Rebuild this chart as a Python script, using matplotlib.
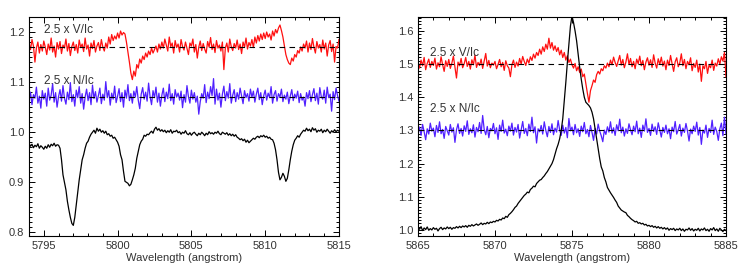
import matplotlib
matplotlib.use("Agg")
import matplotlib.pyplot as plt
from matplotlib.ticker import MultipleLocator, FormatStrFormatter
import numpy as np

plt.rcParams['font.family'] = ['Liberation Sans', 'DejaVu Sans']

# ---- left panel: 5794 - 5815 A, sampled every 0.1 A ----
wl_left = np.linspace(5794.0, 5815.0, 211)

int_left = [
    0.978, 0.972, 0.976, 0.969, 0.974, 0.971, 0.977, 0.968, 0.973, 0.970,
    0.966, 0.972, 0.968, 0.975, 0.970, 0.976, 0.973, 0.978, 0.972, 0.975,
    0.974, 0.968, 0.945, 0.915, 0.900, 0.885, 0.862, 0.845, 0.830, 0.818,
    0.814, 0.830, 0.855, 0.880, 0.905, 0.925, 0.945, 0.955, 0.968, 0.978,
    0.982, 0.990, 0.996, 1.000, 1.004, 0.998, 1.008, 1.002, 1.006, 1.000,
    1.003, 0.998, 1.002, 0.995, 0.997, 0.992, 0.994, 0.988, 0.990, 0.985,
    0.980, 0.972, 0.955, 0.945, 0.922, 0.902, 0.900, 0.898, 0.893, 0.896,
    0.905, 0.915, 0.928, 0.948, 0.962, 0.975, 0.982, 0.986, 0.994, 0.992,
    0.996, 0.995, 0.999, 1.002, 0.998, 1.006, 1.010, 1.004, 1.007, 1.002,
    1.005, 1.001, 1.004, 0.999, 1.003, 1.000, 1.005, 0.998, 1.002, 1.001,
    1.004, 0.999, 1.001, 0.996, 1.000, 0.998, 1.003, 0.997, 0.995, 0.999,
    0.994, 0.998, 1.000, 0.996, 0.993, 0.998, 0.995, 1.000, 0.997, 0.993,
    0.998, 0.995, 1.001, 0.997, 0.999, 0.996, 1.000, 0.998, 1.002, 0.997,
    0.995, 1.000, 0.998, 0.996, 0.999, 0.994, 0.997, 0.993, 0.996, 0.992,
    0.995, 0.990, 0.988, 0.985, 0.987, 0.983, 0.986, 0.980, 0.984, 0.979,
    0.982, 0.985, 0.988, 0.986, 0.990, 0.992, 0.989, 0.993, 0.991, 0.994,
    0.990, 0.992, 0.988, 0.990, 0.986, 0.985, 0.978, 0.965, 0.945, 0.920,
    0.905, 0.910, 0.918, 0.912, 0.902, 0.908, 0.925, 0.945, 0.962, 0.975,
    0.984, 0.988, 0.993, 0.990, 0.996, 1.000, 1.004, 1.002, 1.008, 1.003,
    1.006, 1.001, 1.009, 1.004, 1.007, 1.000, 1.004, 1.002, 1.006, 0.999,
    1.004, 1.001, 1.006, 1.002, 0.998, 1.003, 1.000, 1.005, 1.001, 1.004,
    1.002]

v_left = [
    1.178, 1.165, 1.185, 1.172, 1.140, 1.168, 1.180, 1.158, 1.175, 1.162,
    1.182, 1.170, 1.155, 1.176, 1.164, 1.188, 1.160, 1.172, 1.150, 1.179,
    1.166, 1.181, 1.157, 1.174, 1.168, 1.186, 1.162, 1.177, 1.153, 1.171,
    1.180, 1.163, 1.175, 1.158, 1.184, 1.169, 1.176, 1.161, 1.188, 1.166,
    1.174, 1.152, 1.178, 1.167, 1.183, 1.160, 1.172, 1.179, 1.163, 1.185,
    1.170, 1.162, 1.178, 1.168, 1.190, 1.176, 1.195, 1.183, 1.192, 1.186,
    1.198, 1.188, 1.202, 1.194, 1.199, 1.196, 1.180, 1.160, 1.140, 1.118,
    1.105, 1.122, 1.112, 1.135, 1.128, 1.146, 1.138, 1.152, 1.145, 1.158,
    1.150, 1.162, 1.155, 1.168, 1.158, 1.165, 1.172, 1.160, 1.176, 1.166,
    1.180, 1.168, 1.186, 1.174, 1.162, 1.190, 1.171, 1.178, 1.158, 1.183,
    1.169, 1.176, 1.160, 1.185, 1.171, 1.164, 1.180, 1.167, 1.155, 1.178,
    1.172, 1.186, 1.160, 1.175, 1.148, 1.170, 1.182, 1.163, 1.177, 1.166,
    1.158, 1.181, 1.170, 1.189, 1.165, 1.176, 1.159, 1.183, 1.168, 1.174,
    1.162, 1.180, 1.125, 1.168, 1.178, 1.160, 1.186, 1.171, 1.163, 1.177,
    1.168, 1.184, 1.165, 1.176, 1.157, 1.180, 1.170, 1.188, 1.166, 1.179,
    1.172, 1.185, 1.169, 1.190, 1.178, 1.193, 1.182, 1.196, 1.185, 1.198,
    1.187, 1.200, 1.190, 1.196, 1.184, 1.202, 1.192, 1.205, 1.198, 1.208,
    1.214, 1.203, 1.190, 1.172, 1.155, 1.145, 1.138, 1.135, 1.148, 1.142,
    1.155, 1.150, 1.163, 1.158, 1.170, 1.162, 1.176, 1.168, 1.182, 1.160,
    1.178, 1.165, 1.187, 1.170, 1.158, 1.181, 1.168, 1.175, 1.160, 1.184,
    1.166, 1.178, 1.152, 1.174, 1.183, 1.161, 1.176, 1.140, 1.171, 1.168,
    1.185]

n_left = [
    1.062, 1.080, 1.055, 1.075, 1.068, 1.090, 1.058, 1.072, 1.048, 1.083,
    1.066, 1.078, 1.052, 1.088, 1.064, 1.074, 1.097, 1.060, 1.079, 1.050,
    1.071, 1.085, 1.062, 1.093, 1.068, 1.056, 1.080, 1.065, 1.099, 1.061,
    1.075, 1.052, 1.084, 1.069, 1.091, 1.058, 1.077, 1.046, 1.070, 1.086,
    1.063, 1.079, 1.055, 1.094, 1.067, 1.081, 1.060, 1.073, 1.088, 1.057,
    1.076, 1.064, 1.101, 1.069, 1.083, 1.054, 1.078, 1.066, 1.092, 1.059,
    1.072, 1.087, 1.061, 1.079, 1.050, 1.084, 1.068, 1.095, 1.063, 1.077,
    1.058, 1.082, 1.070, 1.091, 1.064, 1.047, 1.076, 1.089, 1.066, 1.080,
    1.062, 1.098, 1.071, 1.055, 1.083, 1.069, 1.090, 1.060, 1.078, 1.052,
    1.074, 1.088, 1.061, 1.080, 1.067, 1.096, 1.063, 1.077, 1.056, 1.085,
    1.070, 1.078, 1.064, 1.082, 1.049, 1.075, 1.060, 1.093, 1.071, 1.058,
    1.084, 1.066, 1.079, 1.060, 1.072, 1.036, 1.061, 1.077, 1.068, 1.095,
    1.059, 1.080, 1.067, 1.091, 1.073, 1.107, 1.056, 1.086, 1.064, 1.078,
    1.050, 1.076, 1.092, 1.063, 1.081, 1.068, 1.097, 1.058, 1.074, 1.085,
    1.061, 1.079, 1.066, 1.088, 1.072, 1.057, 1.083, 1.069, 1.077, 1.062,
    1.086, 1.070, 1.082, 1.060, 1.076, 1.088, 1.065, 1.079, 1.055, 1.073,
    1.084, 1.064, 1.078, 1.069, 1.091, 1.058, 1.075, 1.083, 1.062, 1.077,
    1.070, 1.086, 1.061, 1.074, 1.066, 1.080, 1.057, 1.072, 1.085, 1.063,
    1.076, 1.068, 1.082, 1.059, 1.077, 1.064, 1.070, 1.052, 1.079, 1.067,
    1.083, 1.061, 1.075, 1.087, 1.063, 1.078, 1.056, 1.089, 1.071, 1.066,
    1.084, 1.058, 1.090, 1.069, 1.076, 1.042, 1.081, 1.065, 1.088, 1.073,
    1.062]

# ---- right panel: 5865 - 5885 A, sampled every 0.1 A ----
wl_right = np.linspace(5865.0, 5885.0, 201)

int_right = [
    1.008, 1.002, 1.010, 0.998, 1.006, 1.001, 1.009, 0.999, 1.004, 1.000,
    1.007, 1.002, 1.005, 0.997, 1.004, 1.008, 1.001, 1.006, 1.003, 1.009,
    1.004, 1.008, 1.002, 1.007, 1.005, 1.010, 1.006, 1.011, 1.007, 1.012,
    1.009, 1.013, 1.008, 1.014, 1.011, 1.016, 1.012, 1.015, 1.018, 1.014,
    1.017, 1.021, 1.016, 1.020, 1.018, 1.023, 1.019, 1.024, 1.022, 1.026,
    1.024, 1.029, 1.027, 1.032, 1.030, 1.036, 1.034, 1.041, 1.038, 1.046,
    1.050, 1.055, 1.061, 1.068, 1.072, 1.080, 1.086, 1.092, 1.098, 1.104,
    1.108, 1.114, 1.112, 1.122, 1.126, 1.132, 1.130, 1.140, 1.145, 1.150,
    1.152, 1.158, 1.163, 1.170, 1.176, 1.184, 1.192, 1.200, 1.212, 1.228,
    1.245, 1.258, 1.275, 1.300, 1.335, 1.390, 1.445, 1.505, 1.560, 1.615,
    1.645, 1.625, 1.600, 1.570, 1.530, 1.490, 1.455, 1.425, 1.400, 1.385,
    1.380, 1.375, 1.368, 1.355, 1.335, 1.305, 1.275, 1.245, 1.215, 1.190,
    1.178, 1.158, 1.145, 1.128, 1.120, 1.112, 1.105, 1.098, 1.090, 1.083,
    1.072, 1.066, 1.060, 1.057, 1.054, 1.052, 1.044, 1.040, 1.035, 1.031,
    1.028, 1.024, 1.026, 1.020, 1.022, 1.018, 1.020, 1.015, 1.017, 1.012,
    1.014, 1.010, 1.013, 1.008, 1.011, 1.006, 1.010, 1.005, 1.008, 1.003,
    1.007, 1.002, 1.006, 0.999, 1.004, 1.001, 1.005, 0.998, 1.003, 1.000,
    1.005, 0.998, 1.003, 0.996, 1.002, 1.000, 1.006, 0.999, 1.004, 0.997,
    1.002, 0.999, 1.005, 0.997, 1.003, 1.000, 1.006, 0.998, 1.002, 0.996,
    1.004, 1.000, 1.007, 0.998, 1.003, 0.996, 1.005, 1.000, 0.995, 1.002,
    0.998]

v_right = [
    1.505, 1.488, 1.512, 1.495, 1.520, 1.483, 1.502, 1.515, 1.490, 1.508,
    1.496, 1.518, 1.485, 1.504, 1.492, 1.522, 1.498, 1.478, 1.510, 1.493,
    1.514, 1.487, 1.503, 1.524, 1.491, 1.458, 1.506, 1.495, 1.517, 1.489,
    1.501, 1.520, 1.493, 1.508, 1.485, 1.513, 1.498, 1.527, 1.490, 1.505,
    1.496, 1.515, 1.487, 1.509, 1.532, 1.494, 1.511, 1.489, 1.503, 1.497,
    1.508, 1.486, 1.499, 1.514, 1.492, 1.505, 1.481, 1.510, 1.495, 1.488,
    1.462, 1.498, 1.512, 1.490, 1.506, 1.494, 1.517, 1.500, 1.523, 1.508,
    1.496, 1.515, 1.503, 1.522, 1.511, 1.530, 1.518, 1.535, 1.526, 1.545,
    1.530, 1.552, 1.538, 1.560, 1.545, 1.578, 1.548, 1.565, 1.542, 1.555,
    1.538, 1.550, 1.528, 1.542, 1.520, 1.535, 1.512, 1.525, 1.505, 1.515,
    1.498, 1.488, 1.502, 1.480, 1.492, 1.475, 1.485, 1.462, 1.470, 1.440,
    1.412, 1.385, 1.420, 1.435, 1.452, 1.445, 1.468, 1.478, 1.470, 1.486,
    1.480, 1.495, 1.488, 1.503, 1.492, 1.512, 1.498, 1.521, 1.505, 1.493,
    1.510, 1.526, 1.497, 1.514, 1.489, 1.506, 1.531, 1.499, 1.517, 1.492,
    1.508, 1.486, 1.515, 1.501, 1.524, 1.495, 1.511, 1.483, 1.506, 1.519,
    1.497, 1.513, 1.490, 1.528, 1.503, 1.488, 1.516, 1.499, 1.521, 1.494,
    1.509, 1.483, 1.512, 1.496, 1.526, 1.501, 1.478, 1.507, 1.519, 1.492,
    1.504, 1.531, 1.495, 1.514, 1.486, 1.508, 1.498, 1.519, 1.480, 1.502,
    1.490, 1.512, 1.476, 1.500, 1.448, 1.495, 1.486, 1.508, 1.472, 1.497,
    1.489, 1.512, 1.481, 1.503, 1.494, 1.516, 1.500, 1.522, 1.509, 1.535,
    1.462]

n_right = [
    1.292, 1.310, 1.285, 1.318, 1.296, 1.272, 1.305, 1.289, 1.322, 1.298,
    1.307, 1.281, 1.315, 1.294, 1.326, 1.290, 1.303, 1.276, 1.312, 1.299,
    1.286, 1.318, 1.295, 1.308, 1.264, 1.302, 1.320, 1.291, 1.306, 1.283,
    1.314, 1.297, 1.329, 1.288, 1.305, 1.293, 1.317, 1.280, 1.309, 1.296,
    1.324, 1.291, 1.345, 1.303, 1.287, 1.312, 1.278, 1.306, 1.299, 1.321,
    1.290, 1.308, 1.273, 1.316, 1.297, 1.331, 1.292, 1.304, 1.284, 1.313,
    1.298, 1.322, 1.286, 1.309, 1.295, 1.318, 1.277, 1.302, 1.327, 1.291,
    1.306, 1.284, 1.319, 1.297, 1.340, 1.293, 1.311, 1.262, 1.305, 1.296,
    1.315, 1.289, 1.326, 1.300, 1.281, 1.312, 1.294, 1.320, 1.287, 1.307,
    1.295, 1.330, 1.301, 1.285, 1.316, 1.292, 1.309, 1.278, 1.336, 1.299,
    1.310, 1.287, 1.318, 1.293, 1.305, 1.282, 1.313, 1.296, 1.324, 1.290,
    1.303, 1.281, 1.315, 1.294, 1.270, 1.306, 1.289, 1.319, 1.298, 1.284,
    1.266, 1.301, 1.288, 1.311, 1.295, 1.326, 1.292, 1.308, 1.285, 1.317,
    1.299, 1.334, 1.293, 1.310, 1.283, 1.305, 1.291, 1.320, 1.302, 1.287,
    1.313, 1.296, 1.328, 1.290, 1.307, 1.279, 1.316, 1.298, 1.335, 1.294,
    1.306, 1.285, 1.319, 1.297, 1.311, 1.288, 1.323, 1.301, 1.280, 1.309,
    1.294, 1.316, 1.290, 1.305, 1.275, 1.310, 1.296, 1.327, 1.289, 1.302,
    1.318, 1.283, 1.307, 1.294, 1.321, 1.298, 1.268, 1.304, 1.290, 1.313,
    1.297, 1.325, 1.286, 1.309, 1.258, 1.301, 1.292, 1.316, 1.279, 1.306,
    1.294, 1.331, 1.288, 1.310, 1.297, 1.270, 1.305, 1.322, 1.284, 1.340,
    1.290]

# zero levels of the shifted Stokes V and null profiles
v_level = [1.17, 1.50]
n_level = [1.07, 1.30]
label_v = "2.5 x V/Ic"
label_n = "2.5 x N/Ic"

red = "#ff1010"
blue = "#5020ff"
txt = "#333333"

fig = plt.figure(figsize=(7.5, 2.74), dpi=100)
ax1 = fig.add_axes([0.0387, 0.139, 0.4133, 0.799])
ax2 = fig.add_axes([0.5573, 0.139, 0.4107, 0.799])


def style(ax, xmaj, ymaj):
    ax.xaxis.set_major_locator(MultipleLocator(xmaj))
    ax.xaxis.set_minor_locator(MultipleLocator(1))
    ax.yaxis.set_major_locator(MultipleLocator(ymaj))
    ax.yaxis.set_minor_locator(MultipleLocator(0.01))
    ax.yaxis.set_major_formatter(FormatStrFormatter('%.1f'))
    ax.tick_params(which='both', direction='in', top=True, right=True,
                   labelsize=8, colors='black', labelcolor=txt, width=0.7)
    ax.tick_params(which='major', length=4.5, pad=3.5)
    ax.tick_params(which='minor', length=2.2)
    for s in ax.spines.values():
        s.set_linewidth(0.8)
    ax.set_xlabel("Wavelength (angstrom)", fontsize=8, color=txt, labelpad=1.5)


# left panel
ax1.plot(wl_left, v_left, color=red, lw=0.9)
ax1.plot(wl_left, n_left, color=blue, lw=0.9)
ax1.axhline(v_level[0], color='black', lw=0.8, ls=(0, (5, 4)))
ax1.axhline(n_level[0], color='black', lw=0.8, ls=(0, (5, 4)))
ax1.plot(wl_left, int_left, color='black', lw=0.9)
ax1.text(5795.0, 1.204, label_v, fontsize=8.5, color=txt, va='center')
ax1.text(5795.0, 1.103, label_n, fontsize=8.5, color=txt, va='center')
ax1.set_xlim(5794, 5815)
ax1.set_ylim(0.793, 1.23)
style(ax1, 5, 0.1)

# right panel
ax2.plot(wl_right, v_right, color=red, lw=0.9)
ax2.plot(wl_right, n_right, color=blue, lw=0.9)
ax2.axhline(v_level[1], color='black', lw=0.8, ls=(0, (5, 4)))
ax2.axhline(n_level[1], color='black', lw=0.8, ls=(0, (5, 4)))
ax2.plot(wl_right, int_right, color='black', lw=0.9)
ax2.text(5865.8, 1.534, label_v, fontsize=8.5, color=txt, va='center')
ax2.text(5865.8, 1.364, label_n, fontsize=8.5, color=txt, va='center')
ax2.set_xlim(5865, 5885)
ax2.set_ylim(0.982, 1.642)
style(ax2, 5, 0.1)

fig.savefig("out.png", dpi=100)
